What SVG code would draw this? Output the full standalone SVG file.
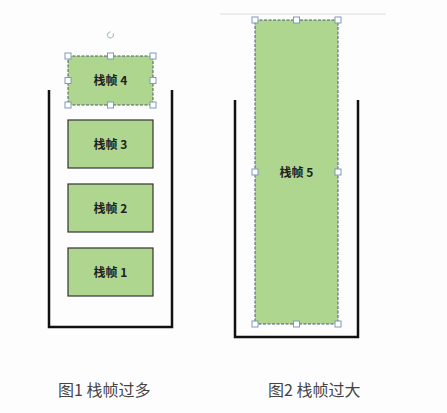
<svg xmlns="http://www.w3.org/2000/svg" width="447" height="413" viewBox="0 0 447 413">
<style>
.frame{fill:#aed68f;stroke:#333;stroke-width:1.2}
.sel{fill:#aed68f;stroke:#4a5a6a;stroke-width:1;stroke-dasharray:3,1.5}
.lbl{font-family:"Noto Sans CJK SC",sans-serif;font-size:12px;font-weight:bold;fill:#222;text-anchor:middle}
.cap{font-family:"Noto Sans CJK SC",sans-serif;font-size:16px;fill:#444}
.wall{fill:none;stroke:#111;stroke-width:2.5}
.h{fill:#fff;stroke:#7d9ab8;stroke-width:1}
</style>
<rect width="447" height="413" fill="#fefdfe"/>
<g id="connectors">
<polyline class="wall" points="49,90 49,327 172,327 172,90"/>
<polyline class="wall" points="235,100 235,337 358,337 358,100"/>
<line x1="220" y1="14" x2="386" y2="14" stroke="#ddd" stroke-width="1"/>
</g>
<g id="frame4">
<rect class="sel" x="68" y="56" width="85" height="49"/>
<text class="lbl" x="110.5" y="85">栈帧 4</text>
<g>
<rect class="h" x="65" y="53" width="6" height="6"/><rect class="h" x="107.5" y="53" width="6" height="6"/><rect class="h" x="150" y="53" width="6" height="6"/>
<rect class="h" x="65" y="77.5" width="6" height="6"/><rect class="h" x="150" y="77.5" width="6" height="6"/>
<rect class="h" x="65" y="102" width="6" height="6"/><rect class="h" x="107.5" y="102" width="6" height="6"/><rect class="h" x="150" y="102" width="6" height="6"/>
</g>
<path d="M113,33.5 A3,3 0 1 1 110.5,32" fill="none" stroke="#8aa" stroke-width="0.9"/>
</g>
<g id="frame3">
<rect class="frame" x="68" y="120" width="85" height="48"/>
<text class="lbl" x="110.5" y="148.5">栈帧 3</text>
</g>
<g id="frame2">
<rect class="frame" x="68" y="184" width="85" height="48"/>
<text class="lbl" x="110.5" y="212.5">栈帧 2</text>
</g>
<g id="frame1">
<rect class="frame" x="68" y="248" width="85" height="48"/>
<text class="lbl" x="110.5" y="276.5">栈帧 1</text>
</g>
<g id="frame5">
<rect class="sel" x="255" y="20" width="83" height="304"/>
<text class="lbl" x="296.5" y="176.5">栈帧 5</text>
<rect class="h" x="252" y="17" width="6" height="6"/><rect class="h" x="293.5" y="17" width="6" height="6"/><rect class="h" x="335" y="17" width="6" height="6"/>
<rect class="h" x="252" y="169" width="6" height="6"/><rect class="h" x="335" y="169" width="6" height="6"/>
<rect class="h" x="252" y="321" width="6" height="6"/><rect class="h" x="293.5" y="321" width="6" height="6"/><rect class="h" x="335" y="321" width="6" height="6"/>
</g>
<g id="captions">
<text class="cap" x="58" y="396">图1 栈帧过多</text>
<text class="cap" x="268" y="396">图2 栈帧过大</text>
</g>
</svg>
